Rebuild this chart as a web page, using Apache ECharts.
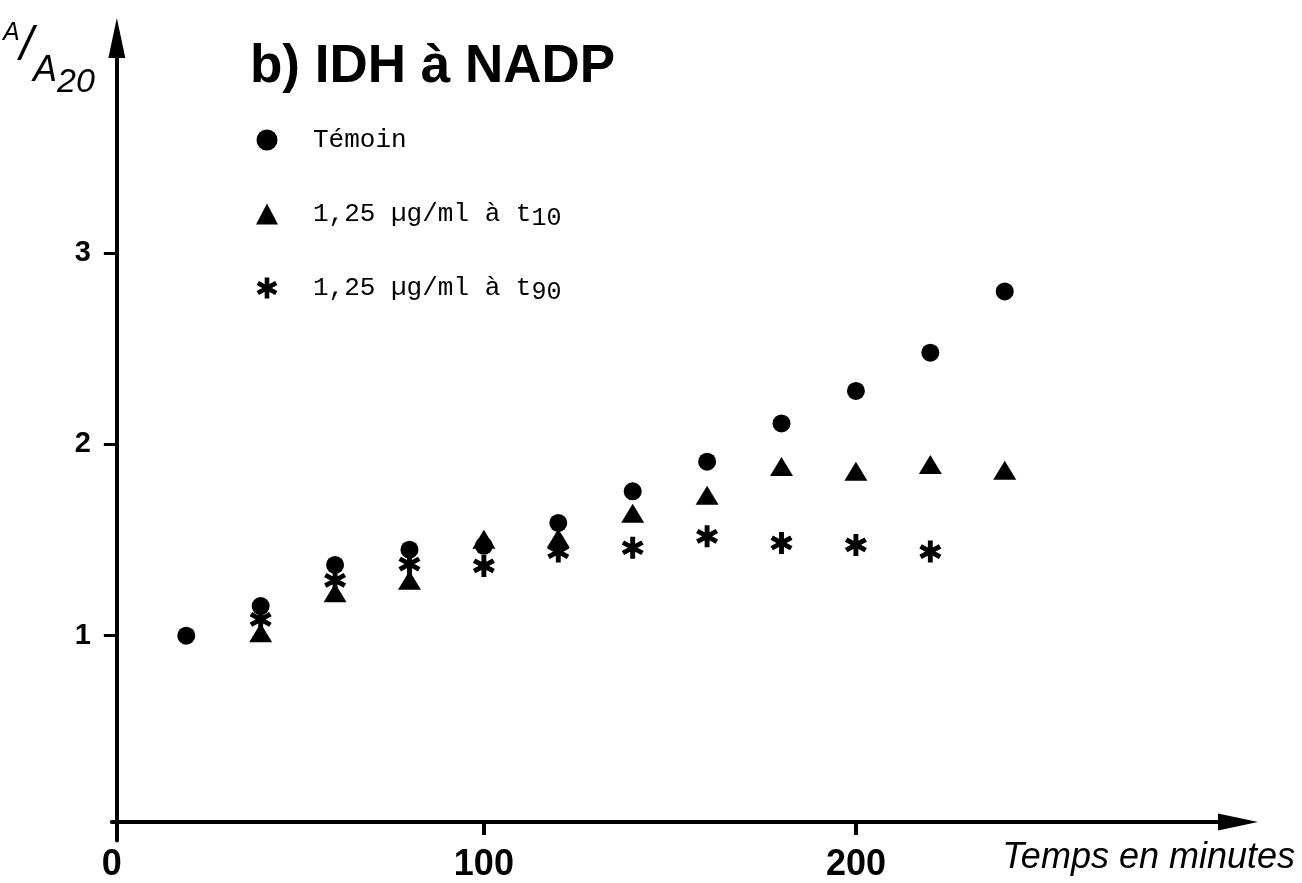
<!DOCTYPE html>
<html><head><meta charset="utf-8">
<script src="https://cdn.jsdelivr.net/npm/echarts@6/dist/echarts.min.js"></script>
<style>html,body{margin:0;padding:0;background:#fff}#c{width:1302px;height:883px}</style>
</head><body><div id="c"></div>
<script>
// ---- data ----
const timesTemoin = [20, 40, 60, 80, 100, 120, 140, 160, 180, 200, 220, 240];
const temoin      = [1.00, 1.155, 1.37, 1.45, 1.47, 1.59, 1.755, 1.91, 2.11, 2.28, 2.48, 2.80];
const timesT10    = [40, 60, 80, 100, 120, 140, 160, 180, 200, 220, 240];
const t10         = [1.015, 1.225, 1.29, 1.505, 1.51, 1.64, 1.735, 1.885, 1.86, 1.895, 1.865];
const timesT90    = [40, 60, 80, 100, 120, 140, 160, 180, 200, 220];
const t90         = [1.085, 1.29, 1.375, 1.365, 1.44, 1.46, 1.52, 1.485, 1.475, 1.44];
const xTickValues = [100, 200];
const xLabelValues = [0, 100, 200];
const yTickValues = [1, 2, 3];
const seriesNames = ['Témoin', '1,25 µg/ml à t10', '1,25 µg/ml à t90'];
const titleText = 'b) IDH à NADP';
const xName = 'Temps en minutes';

const asterisk = 'path://M39,0L61,0L61,100L39,100Z M0.5,35.5L11.5,16.5L99.5,64.5L88.5,83.5Z M11.5,83.5L0.5,64.5L88.5,16.5L99.5,35.5Z';
const zip = (xs, ys) => xs.map((x, i) => [x, ys[i]]);

const chart = echarts.init(document.getElementById('c'), null, {renderer: 'canvas'});
const monoFont = "'Liberation Mono', 'DejaVu Sans Mono', monospace";
const sansFont = "'Liberation Sans', Arial, sans-serif";

chart.setOption({
  animation: false,
  backgroundColor: '#fff',
  title: {
    text: titleText,
    left: 250, top: 41, padding: 0,
    textStyle: {fontFamily: sansFont, fontWeight: 'bold', fontSize: 53, color: '#000'}
  },
  legend: {
    orient: 'vertical',
    left: 251, top: 118,
    itemWidth: 22, itemHeight: 21, itemGap: 40,
    selectedMode: false,
    data: seriesNames,
    formatter: function (name) {
      const m = name.match(/^(.*t)(\d+)$/);
      if (m) return '{m|' + m[1] + '}{sub|' + m[2] + '}';
      return '{m|' + name + '}';
    },
    textStyle: {
      fontFamily: monoFont, fontSize: 26, color: '#000', lineHeight: 34,
      padding: [0, 0, 0, 30],
      rich: {
        m: {fontFamily: monoFont, fontSize: 26, color: '#000', lineHeight: 34, verticalAlign: 'middle'},
        sub: {fontFamily: monoFont, fontSize: 25, color: '#000', lineHeight: 20, verticalAlign: 'bottom'}
      }
    }
  },
  grid: {left: 106, right: 64, top: 38, bottom: 39.6, containLabel: false},
  xAxis: {
    type: 'value', min: 0, max: 302.7, position: 'bottom', offset: -18.4,
    splitLine: {show: false},
    axisLine: {show: true, onZero: false, lineStyle: {color: '#000', width: 4},
               symbol: ['none', 'triangle'], symbolSize: [17, 40]},
    axisTick: {show: true, customValues: xTickValues, length: 13, lineStyle: {color: '#000', width: 4}},
    axisLabel: {customValues: xLabelValues, margin: 25, fontSize: 36, fontWeight: 'bold', color: '#000', fontFamily: sansFont},
    name: xName, nameLocation: 'end', nameGap: 57,
    nameTextStyle: {fontFamily: sansFont, fontStyle: 'italic', fontSize: 36, color: '#000',
                    align: 'right', verticalAlign: 'top', padding: [18, 0, 0, 0]}
  },
  yAxis: {
    type: 'value', min: -0.07, max: 4.125, position: 'left', offset: -5,
    splitLine: {show: false},
    axisLine: {show: true, onZero: false, lineStyle: {color: '#000', width: 4},
               symbol: ['none', 'triangle'], symbolSize: [17, 40]},
    axisTick: {show: true, customValues: yTickValues, length: 13, lineStyle: {color: '#000', width: 3}},
    axisLabel: {customValues: yTickValues, margin: 26, fontSize: 29, fontWeight: 'bold', color: '#000',
                fontFamily: sansFont, padding: [0, 0, 12, 0]},
    name: '{a|A}{s|/}{b|A}{c|20}', nameLocation: 'end', nameGap: 17,
    nameTextStyle: {
      align: 'right', verticalAlign: 'top', padding: [0, 22, 0, 0], color: '#000',
      rich: {
        a: {fontFamily: sansFont, fontStyle: 'italic', fontSize: 25, lineHeight: 25, verticalAlign: 'top', color: '#000'},
        s: {fontFamily: sansFont, fontStyle: 'italic', fontSize: 48, lineHeight: 48, verticalAlign: 'top', padding: [2, 0, 0, 0], color: '#000'},
        b: {fontFamily: sansFont, fontStyle: 'italic', fontSize: 36, lineHeight: 36, verticalAlign: 'top', padding: [32, 0, 0, 0], color: '#000'},
        c: {fontFamily: sansFont, fontStyle: 'italic', fontSize: 34, lineHeight: 34, verticalAlign: 'top', padding: [45, 0, 0, 0], color: '#000'}
      }
    }
  },
  series: [
    {name: seriesNames[0], type: 'scatter', symbol: 'circle', symbolSize: 18,
     itemStyle: {color: '#000', opacity: 1}, data: zip(timesTemoin, temoin)},
    {name: seriesNames[1], type: 'scatter', symbol: 'triangle', symbolSize: [23, 19],
     itemStyle: {color: '#000', opacity: 1}, data: zip(timesT10, t10)},
    {name: seriesNames[2], type: 'scatter', symbol: asterisk, symbolSize: [22, 22],
     itemStyle: {color: '#000', opacity: 1}, data: zip(timesT90, t90)}
  ]
});
</script>
</body></html>
